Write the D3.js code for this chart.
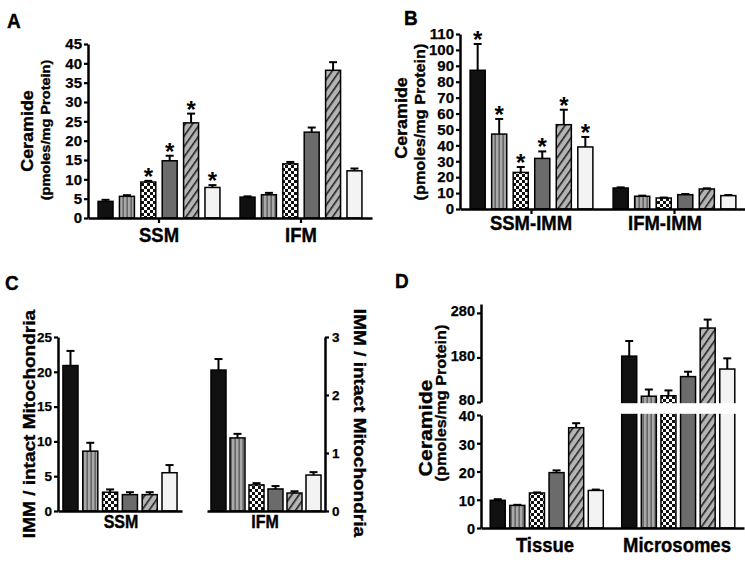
<!DOCTYPE html>
<html><head><meta charset="utf-8">
<script src="https://cdn.jsdelivr.net/npm/d3@7"></script>
<style>html,body{margin:0;padding:0;background:#fff;}svg{display:block;}</style>
</head><body>
<script>
// ---------------- DATA ----------------
const seriesIdx = [0,1,2,3,4,5];

const A_categories = ['SSM','IFM'];
const A_values = [[4.3,5.6,9.3,14.8,24.6,7.9],[5.4,6.0,14.0,22.2,38.2,12.2]];
const A_errors = [[0.4,0.3,0.3,1.3,2.4,0.6],[0.2,0.5,0.5,1.2,2.1,0.6]];
const A_sig = [[0,0,1,1,1,1],[0,0,0,0,0,0]];
const A_ticks = [0,5,10,15,20,25,30,35,40,45];

const B_categories = ['SSM-IMM','IFM-IMM'];
const B_values = [[87.2,47.1,23.0,31.8,53.0,39.0],[13.2,8.0,6.9,9.0,12.6,8.4]];
const B_errors = [[16.5,9.5,3.4,4.4,9.4,6.3],[0.4,0.4,0.3,0.4,0.4,0.4]];
const B_sig = [[1,1,1,1,1,1],[0,0,0,0,0,0]];
const B_ticks = [0,10,20,30,40,50,60,70,80,90,100,110];

const C_categories = ['SSM','IFM'];
const C_ssm_values = [20.9,8.6,2.7,2.35,2.35,5.5];
const C_ssm_errors = [2.1,1.2,0.4,0.35,0.35,1.1];
const C_ifm_values = [2.43,1.26,0.45,0.38,0.31,0.62];
const C_ifm_errors = [0.19,0.07,0.03,0.05,0.03,0.05];
const C_left_ticks = [0,5,10,15,20,25];
const C_right_ticks = [0,1,2,3];

const D_categories = ['Tissue','Microsomes'];
const D_values = [[9.8,8.0,12.4,19.6,35.5,13.3],[183,93,94,137,246,154]];
const D_errors = [[0.4,0.2,0.2,0.8,1.6,0.3],[34,15,12,11,19,24]];
const D_lower_ticks = [0,10,20,30,40];
const D_upper_ticks = [80,180,280];

// ---------------- SETUP ----------------
const W = 745, H = 569;
const FONT = "'Liberation Sans', Arial, Helvetica, sans-serif";
const SY = 1.12;
const svg = d3.select('body').append('svg').attr('width', W).attr('height', H)
  .style('font-family', FONT);

const defs = svg.append('defs');
const pv = defs.append('pattern').attr('id','pStripe').attr('patternUnits','userSpaceOnUse')
  .attr('width',4).attr('height',10);
pv.append('rect').attr('width',4).attr('height',10).attr('fill','#a9a9a9');
pv.append('rect').attr('x',2.5).attr('width',1.3).attr('height',10).attr('fill','#555');
const pc = defs.append('pattern').attr('id','pCheck').attr('patternUnits','userSpaceOnUse')
  .attr('width',6).attr('height',6);
pc.append('rect').attr('width',6).attr('height',6).attr('fill','#fff');
pc.append('rect').attr('width',3).attr('height',3).attr('fill','#111');
pc.append('rect').attr('x',3).attr('y',3).attr('width',3).attr('height',3).attr('fill','#111');
const ph = defs.append('pattern').attr('id','pHatch').attr('patternUnits','userSpaceOnUse')
  .attr('width',6).attr('height',6).attr('patternTransform','rotate(35)');
ph.append('rect').attr('width',6).attr('height',6).attr('fill','#b4b4b4');
ph.append('rect').attr('x',0).attr('width',1.6).attr('height',6).attr('fill','#222');

const fills = ['#111','url(#pStripe)','url(#pCheck)','#6b6b6b','url(#pHatch)','#f3f3f3'];

function txt(x, y, s, size, opts={}) {
  return svg.append('text')
    .attr('transform', `translate(${x},${y}) scale(1,${opts.sy||SY}) rotate(${opts.rot||0})`)
    .attr('text-anchor', opts.anchor || 'middle')
    .attr('font-size', size).attr('font-weight','bold').attr('fill','#000')
    .attr('stroke','#000').attr('stroke-width',0.35).text(s);
}

function styleAxis(g, fs) {
  g.select('.domain').attr('stroke','#000').attr('stroke-width',2.5);
  g.selectAll('.tick line').attr('stroke','#000').attr('stroke-width',2.2);
  g.selectAll('.tick text').attr('font-size',fs).attr('font-weight','bold')
    .attr('font-family',FONT).attr('fill','#000').attr('stroke','#000').attr('stroke-width',0.25);
}

function drawBar(g, x, w, yTop, yBase, fill, yErr, star) {
  g.append('rect').attr('x',x).attr('y',yTop).attr('width',w).attr('height',yBase-yTop)
    .attr('fill',fill).attr('stroke','#000').attr('stroke-width',1.5);
  const cx = x + w/2;
  g.append('line').attr('x1',cx).attr('x2',cx).attr('y1',yTop).attr('y2',yErr)
    .attr('stroke','#000').attr('stroke-width',2);
  g.append('line').attr('x1',cx-4).attr('x2',cx+4).attr('y1',yErr).attr('y2',yErr)
    .attr('stroke','#000').attr('stroke-width',2);
  if (star) {
    g.append('text').attr('x',cx).attr('y',yErr+4).attr('text-anchor','middle')
      .attr('font-size',24).attr('font-weight','bold').text('*');
  }
}

function simplePanel(cfg) {
  const g = svg.append('g');
  const x0 = d3.scaleBand().domain(cfg.cats).range(cfg.xRange);
  const x1 = d3.scaleBand().domain(seriesIdx).range([0, x0.bandwidth()])
    .paddingInner(cfg.pI).paddingOuter(cfg.pO);
  const y = d3.scaleLinear().domain(cfg.domain).range(cfg.yRange);
  cfg.cats.forEach((c,ci) => {
    cfg.values[ci].forEach((v,si) => {
      drawBar(g, x0(c)+x1(si), x1.bandwidth(), y(v), y(0), fills[si],
        y(v + cfg.errors[ci][si]), cfg.sig[ci][si]);
    });
  });
  const ya = g.append('g').attr('transform',`translate(${cfg.xRange[0]},0)`)
    .call(d3.axisLeft(y).tickValues(cfg.ticks).tickSize(4).tickSizeOuter(0).tickPadding(2));
  styleAxis(ya, 15);
  const xa = g.append('g').attr('transform',`translate(0,${cfg.yRange[0]})`)
    .call(d3.axisBottom(x0).tickSize(5).tickSizeOuter(0).tickFormat(''));
  styleAxis(xa, 15);
  cfg.cats.forEach((c,ci) => txt(cfg.catX[ci], cfg.catY, c, 18.5));
}

simplePanel({cats:A_categories, values:A_values, errors:A_errors, sig:A_sig, ticks:A_ticks,
  xRange:[88,372], yRange:[218,44], domain:[0,45], pI:0.3, pO:0.47,
  catX:[159,301], catY:242});
txt(7, 28, 'A', 19, {anchor:'start', sy:1.1});
txt(33, 131, 'Ceramide', 16, {rot:-90});
txt(50, 130, '(pmoles/mg Protein)', 13, {rot:-90});

simplePanel({cats:B_categories, values:B_values, errors:B_errors, sig:B_sig, ticks:B_ticks,
  xRange:[460,746], yRange:[209,34], domain:[0,110], pI:0.3, pO:0.47,
  catX:[531,665], catY:230});
txt(404, 25, 'B', 19, {anchor:'start', sy:1.1});
txt(407, 118, 'Ceramide', 16, {rot:-90});
txt(425, 122, '(pmoles/mg Protein)', 14.5, {rot:-90});

(function(){
  const g = svg.append('g');
  const yL = d3.scaleLinear().domain([0,25]).range([511,337]);
  const yR = d3.scaleLinear().domain([0,3]).range([511,337]);
  const xL = d3.scaleBand().domain(seriesIdx).range([58,182]).paddingInner(0.24).paddingOuter(0.25);
  const xR = d3.scaleBand().domain(seriesIdx).range([207,325]).paddingInner(0.21).paddingOuter(0.21);
  C_ssm_values.forEach((v,si) => drawBar(g, xL(si), xL.bandwidth(), yL(v), yL(0), fills[si], yL(v+C_ssm_errors[si]), 0));
  C_ifm_values.forEach((v,si) => drawBar(g, xR(si), xR.bandwidth(), yR(v), yR(0), fills[si], yR(v+C_ifm_errors[si]), 0));
  const a1 = g.append('g').attr('transform','translate(58,0)')
    .call(d3.axisLeft(yL).tickValues(C_left_ticks).tickSize(4).tickSizeOuter(0).tickPadding(2));
  styleAxis(a1, 13.5);
  const a2 = g.append('g').attr('transform','translate(325,0)')
    .call(d3.axisRight(yR).tickValues(C_right_ticks).tickFormat(d3.format('d')).tickSize(4).tickSizeOuter(0).tickPadding(3));
  styleAxis(a2, 13.5);
  const b1 = g.append('g').attr('transform','translate(0,511)')
    .call(d3.axisBottom(xL).tickSize(0).tickSizeOuter(0).tickFormat(''));
  styleAxis(b1, 13);
  const b2 = g.append('g').attr('transform','translate(0,511)')
    .call(d3.axisBottom(xR).tickSize(0).tickSizeOuter(0).tickFormat(''));
  styleAxis(b2, 13);
  txt(121, 528, C_categories[0], 16);
  txt(265, 528, C_categories[1], 16);
})();
txt(5, 290, 'C', 19, {anchor:'start', sy:1.1});
txt(35, 424, 'IMM / intact Mitochondria', 17, {rot:-90});
txt(354, 423, 'IMM / intact Mitochondria', 17, {rot:90});

(function(){
  const g = svg.append('g');
  const x0 = d3.scaleBand().domain(D_categories).range([481,744]);
  const x1 = d3.scaleBand().domain(seriesIdx).range([0, x0.bandwidth()]).paddingInner(0.235).paddingOuter(0.47);
  const yLo = d3.scaleLinear().domain([0,40]).range([528,415]);
  const yUp = d3.scaleLinear().domain([80,300]).range([402,304]);
  const yD = v => v <= 40 ? yLo(v) : yUp(v);
  D_categories.forEach((c,ci) => {
    D_values[ci].forEach((v,si) => {
      drawBar(g, x0(c)+x1(si), x1.bandwidth(), yD(v), yD(0), fills[si], yD(v + D_errors[ci][si]), 0);
    });
  });
  g.append('rect').attr('x', x0(D_categories[1])).attr('width', x0.bandwidth()+2)
    .attr('y', yUp(80)+1.2).attr('height', yLo(40)-yUp(80)-2.4).attr('fill','#fff');
  const aLo = g.append('g').attr('transform','translate(481,0)')
    .call(d3.axisLeft(yLo).tickValues(D_lower_ticks).tickSize(4).tickSizeOuter(0).tickPadding(2));
  styleAxis(aLo, 14.5);
  const aUp = g.append('g').attr('transform','translate(481,0)')
    .call(d3.axisLeft(yUp).tickValues(D_upper_ticks).tickSize(4).tickSizeOuter(0).tickPadding(2));
  styleAxis(aUp, 14.5);
  aUp.selectAll('.tick text').attr('dy','0.2em');
  aLo.selectAll('.tick text').attr('dy','0.4em');
  const xa = g.append('g').attr('transform','translate(0,528)')
    .call(d3.axisBottom(x0).tickSize(0).tickSizeOuter(0).tickFormat(''));
  styleAxis(xa, 14);
  txt(545, 552, D_categories[0], 18.5);
  txt(677, 552, D_categories[1], 18.5);
})();
txt(395, 288, 'D', 19, {anchor:'start', sy:1.1});
txt(432, 428, 'Ceramide', 19, {rot:-90});
txt(446, 403, '(pmoles/mg Protein)', 14.5, {rot:-90});
</script>
</body></html>
